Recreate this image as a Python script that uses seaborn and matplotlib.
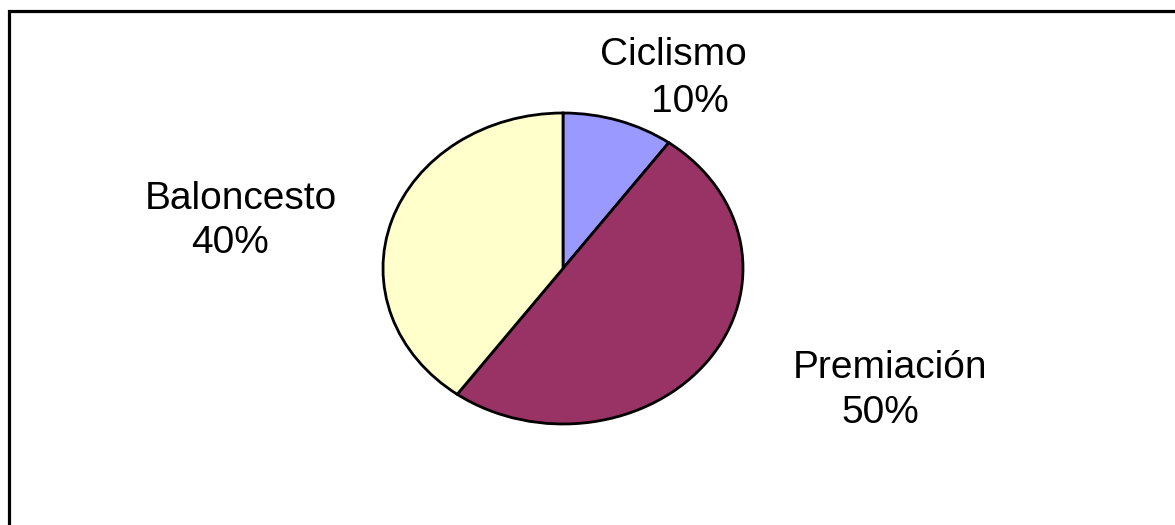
import matplotlib
matplotlib.use("Agg")
import matplotlib.pyplot as plt
import seaborn as sns
from matplotlib.patches import Rectangle

# ==========================================
# Data
# ==========================================

categories = ["Ciclismo", "Premiación", "Baloncesto"]
shares = [10, 50, 40]
colors = ["#9999FF", "#993366", "#FFFFCC"]

# label baselines (figure pixels, from top-left): name line and percent line
name_pos = {
    "Ciclismo": (673, 65),
    "Premiación": (890, 378),
    "Baloncesto": (241, 209),
}
pct_pos = {
    "Ciclismo": (690, 112),
    "Premiación": (880, 423),
    "Baloncesto": (230, 253),
}

sns.set_theme(style="white")
plt.rcParams["font.family"] = ["Liberation Sans", "DejaVu Sans"]

W, H = 1175, 525
fig = plt.figure(figsize=(W / 100, H / 100), dpi=100)
fig.patch.set_facecolor("white")

# chart border (only top and left visible, rest is cropped)
fig.patches.append(Rectangle((9 / W, -0.1), 1.2, (H - 10.5) / H + 0.1,
                             transform=fig.transFigure, fill=False,
                             edgecolor="black", linewidth=2.3))

# ==========================================
# Pie (elliptical, old Excel look)
# ==========================================

cx, cy, rx, ry = 563, 268.5, 180, 155.5
ax = fig.add_axes([(cx - rx) / W, (H - cy - ry) / H, 2 * rx / W, 2 * ry / H])
ax.pie(shares, colors=colors, startangle=90, counterclock=False,
       wedgeprops=dict(edgecolor="black", linewidth=2))
ax.set_aspect("auto")
ax.set_xlim(-1.0, 1.0)
ax.set_ylim(-1.0, 1.0)
ax.axis("off")

for name, val in zip(categories, shares):
    x, y = name_pos[name]
    fig.text(x / W, 1 - y / H, name, ha="center", va="baseline",
             fontsize=28, color="black")
    x, y = pct_pos[name]
    fig.text(x / W, 1 - y / H, f"{val}%", ha="center", va="baseline",
             fontsize=28, color="black")

fig.savefig("out.png", dpi=100, facecolor="white")
